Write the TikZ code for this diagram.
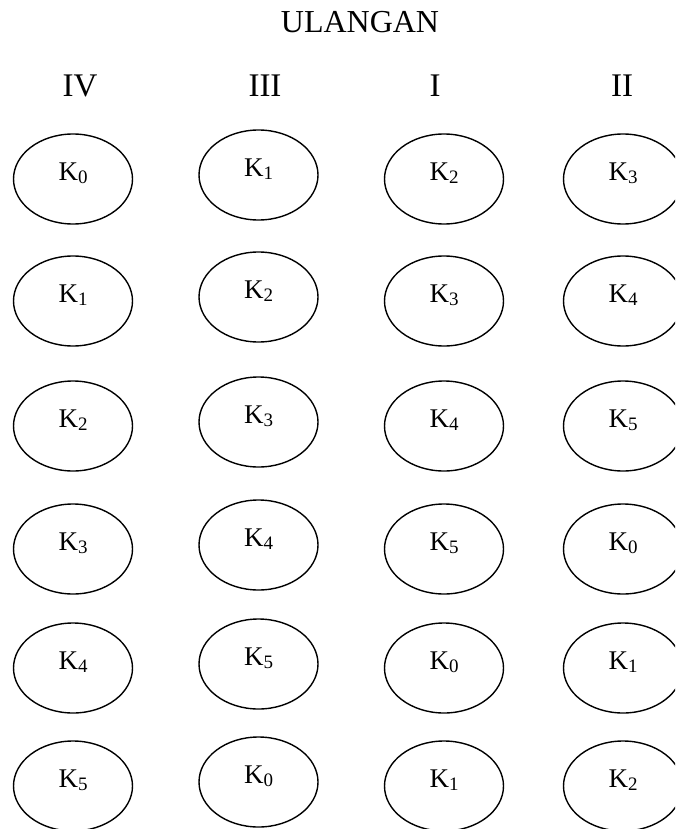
\documentclass[tikz,border=0pt]{standalone}
\usepackage{fontspec}
\setmainfont{Liberation Serif}
\usetikzlibrary{shapes.geometric}
\newcommand{\kk}[1]{K\raisebox{-3pt}{\fontsize{19}{19}\selectfont #1}}
\begin{document}
\begin{tikzpicture}[x=1pt,y=-1pt,
  plotbox/.style={draw, line width=1.4pt, ellipse, minimum width=119pt, minimum height=90pt, inner sep=0pt},
  lab/.style={anchor=base, inner sep=0pt, font=\fontsize{27}{30}\selectfont},
  head/.style={anchor=base, inner sep=0pt, font=\fontsize{33}{36}\selectfont}]
\useasboundingbox (0,0) rectangle (675,829);
\clip (0,0) rectangle (675,829);
\node[head, font=\fontsize{32}{36}\selectfont] (title) at (360,33) {ULANGAN};
\node[head] (hIV) at (80,97) {IV};
\node[head] (hIII) at (265,97) {III};
\node[head] (hI) at (435,97) {I};
\node[head] (hII) at (622,97) {II};
\foreach \c/\x/\dy/\o in {1/73/0/0, 2/258.5/-4/1, 3/444/0/2, 4/623/0/3}{
  \foreach \r/\y in {0/179,1/301,2/426,3/549,4/668,5/786}{
    \pgfmathtruncatemacro{\k}{mod(\r+\o,6)}
    \node[plotbox] (e\c\r) at (\x,\y+\dy) {};
    \node[lab] (t\c\r) at (\x,\y+\dy+1) {\kk{\k}};
  }
}
\end{tikzpicture}
\end{document}
